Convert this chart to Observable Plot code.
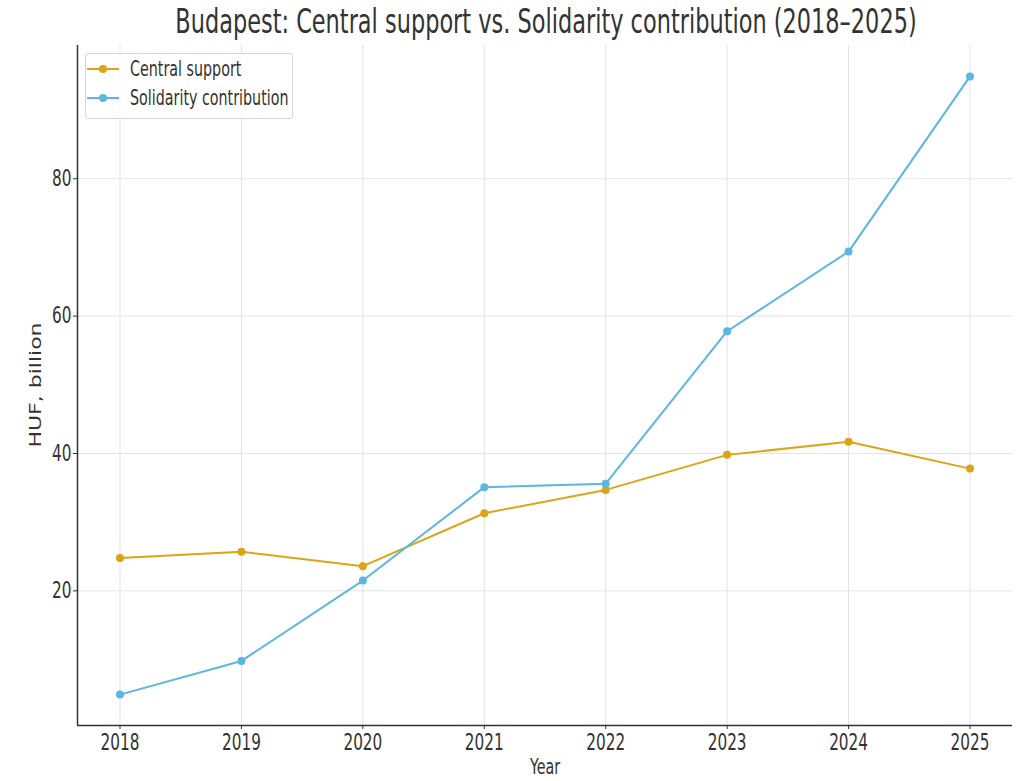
<!DOCTYPE html>
<html>
<head>
<meta charset="utf-8">
<script src="https://cdn.jsdelivr.net/npm/d3@7"></script>
<script src="https://cdn.jsdelivr.net/npm/@observablehq/plot@0.6"></script>
<style>
  html, body { margin: 0; padding: 0; background: #fff; }
  #wrap { position: relative; width: 1020px; height: 781px; overflow: hidden; font-family: "DejaVu Sans", sans-serif; color: #333; }
  #wrap svg { position: absolute; left: 0; top: 0; }
  .sq { position: absolute; white-space: nowrap; }
  #title { left: 546px; top: 21px; font-size: 33px; transform: translate(-50%, -50%) scaleX(0.68); }
  #xlabel { left: 545px; top: 767px; font-size: 21px; transform: translate(-50%, -50%) scaleX(0.68); }
  #ylabel { left: 36px; top: 385px; font-size: 22px; transform: translate(-50%, -50%) scaleX(0.68) rotate(-90deg); }
  #legend { position: absolute; left: 85px; top: 53px; width: 206px; height: 64px; border: 1px solid #d6d6d6; border-radius: 3px; background: rgba(255,255,255,0.85); }
  .row { position: absolute; left: 0; height: 20px; width: 206px; }
  .row svg { position: absolute; left: 4px; top: 0; }
  .row span { position: absolute; left: 44px; top: 10px; font-size: 21px; transform-origin: left center; transform: translateY(-50%) scaleX(0.68); white-space: nowrap; }
</style>
</head>
<body>
<div id="wrap"></div>
<script>
// ---- data ----
const years = [2018, 2019, 2020, 2021, 2022, 2023, 2024, 2025];
const centralSupport = [24.8, 25.7, 23.6, 31.3, 34.7, 39.8, 41.7, 37.8];
const solidarityContribution = [4.9, 9.8, 21.5, 35.1, 35.6, 57.8, 69.4, 94.9];
const seriesNames = ["Central support", "Solidarity contribution"];
const seriesColors = ["#DCA417", "#5BB6E0"];
const yTicks = [20, 40, 60, 80];
const titleText = "Budapest: Central support vs. Solidarity contribution (2018–2025)";
const xLabelText = "Year";
const yLabelText = "HUF, billion";

const rows = [
  ...years.map((y, i) => ({year: y, value: centralSupport[i], series: seriesNames[0]})),
  ...years.map((y, i) => ({year: y, value: solidarityContribution[i], series: seriesNames[1]}))
];

const xDomain = [2017.65, 2025.35];
const yDomain = [0.4, 99.4];

const svg = Plot.plot({
  width: 1020,
  height: 781,
  marginTop: 45,
  marginBottom: 56,
  marginLeft: 77,
  marginRight: 8,
  style: {fontFamily: "DejaVu Sans, sans-serif", fontSize: "22px", color: "#333", background: "#fff"},
  x: {domain: xDomain},
  y: {domain: yDomain},
  color: {domain: seriesNames, range: seriesColors},
  marks: [
    Plot.gridX(years, {stroke: "#e3e3e3", strokeOpacity: 1, strokeWidth: 1}),
    Plot.gridY(yTicks, {stroke: "#e3e3e3", strokeOpacity: 1, strokeWidth: 1}),
    Plot.axisX(years, {tickSize: 4, tickPadding: 5, tickFormat: d => String(d), label: null, fontSize: 22.5, stroke: "#333"}),
    Plot.axisY(yTicks, {tickSize: 4, tickPadding: 2, label: null, fontSize: 22.5, stroke: "#333"}),
    Plot.ruleX([xDomain[0]], {stroke: "#333", strokeWidth: 1.5}),
    Plot.ruleY([yDomain[0]], {stroke: "#333", strokeWidth: 1.5}),
    Plot.line(rows, {x: "year", y: "value", stroke: "series", strokeWidth: 2}),
    Plot.dot(rows, {x: "year", y: "value", fill: "series", r: 4})
  ]
});

const wrap = document.getElementById("wrap");
wrap.appendChild(svg);

// squeeze all svg text horizontally (condensed look of the reference)
const NS = "http://www.w3.org/2000/svg";
svg.querySelectorAll("text").forEach(t => {
  const anchor = getComputedStyle(t).textAnchor;
  const g = document.createElementNS(NS, "g");
  t.parentNode.insertBefore(g, t);
  g.appendChild(t);
  g.style.transformBox = "fill-box";
  g.style.transformOrigin = anchor === "end" ? "right center" : anchor === "middle" ? "center center" : "left center";
  g.style.transform = "scaleX(0.68)";
});

// title & axis labels
function addText(id, txt) {
  const d = document.createElement("div");
  d.id = id; d.className = "sq"; d.textContent = txt;
  wrap.appendChild(d);
}
addText("title", titleText);
addText("xlabel", xLabelText);
addText("ylabel", yLabelText);

// legend
const legend = document.createElement("div");
legend.id = "legend";
seriesNames.forEach((name, i) => {
  const row = document.createElement("div");
  row.className = "row";
  row.style.top = (i === 0 ? 5 : 34) + "px";
  row.innerHTML = `<svg width="34" height="20"><line x1="1" x2="33" y1="10" y2="10" stroke="${seriesColors[i]}" stroke-width="2"/><circle cx="17" cy="10" r="4" fill="${seriesColors[i]}"/></svg><span>${name}</span>`;
  legend.appendChild(row);
});
wrap.appendChild(legend);
</script>
</body>
</html>
